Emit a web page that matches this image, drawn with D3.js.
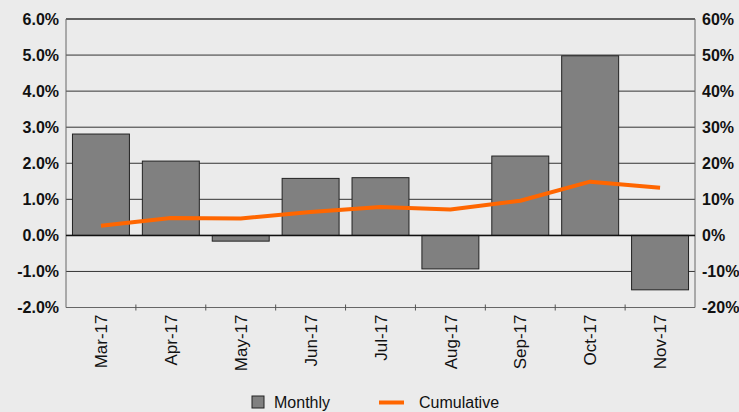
<!DOCTYPE html>
<html><head><meta charset="utf-8">
<script src="https://cdn.jsdelivr.net/npm/d3@7"></script>
<style>
html,body{margin:0;padding:0;background:#ebebeb;}
svg{display:block;}
</style>
</head><body>
<script>
const categories = ["Mar-17","Apr-17","May-17","Jun-17","Jul-17","Aug-17","Sep-17","Oct-17","Nov-17"];
const monthly = [2.81, 2.06, -0.16, 1.58, 1.60, -0.93, 2.20, 4.98, -1.51];
const cumulative = [2.7, 4.8, 4.7, 6.5, 7.9, 7.2, 9.6, 14.9, 13.2];
const leftTicks = [-2,-1,0,1,2,3,4,5,6];
const rightTicks = [-20,-10,0,10,20,30,40,50,60];
const legendLabels = ["Monthly","Cumulative"];

const W = 739, H = 412;
const L = 66, R = 695, T = 19, B = 307.5;

const svg = d3.select("body").append("svg").attr("width",W).attr("height",H);
svg.append("rect").attr("width",W).attr("height",H).attr("fill","#ebebeb");

const x = d3.scaleBand().domain(categories).range([L,R]).paddingInner(0.185).paddingOuter(0.0925);
const y = d3.scaleLinear().domain([-2,6]).range([B,T]);
const y2 = d3.scaleLinear().domain([-20,60]).range([B,T]);

// gridlines
svg.append("g").selectAll("line").data(leftTicks).join("line")
  .attr("x1",L).attr("x2",R)
  .attr("y1",d=>y(d)).attr("y2",d=>y(d))
  .attr("stroke", d=> d===-2 ? "#666" : "#333")
  .attr("stroke-width", d=> d===6 ? 1.5 : 1);

// side axes
svg.append("line").attr("x1",L).attr("x2",L).attr("y1",T).attr("y2",B).attr("stroke","#666").attr("stroke-width",1);
svg.append("line").attr("x1",R).attr("x2",R).attr("y1",T).attr("y2",B).attr("stroke","#666").attr("stroke-width",1);

// bottom ticks at band boundaries
const step = x.step();
svg.append("g").selectAll("line").data(categories.slice(1)).join("line")
  .attr("x1",d=>x(d)-step*x.paddingInner()/2).attr("x2",d=>x(d)-step*x.paddingInner()/2)
  .attr("y1",B-3).attr("y2",B+3).attr("stroke","#555").attr("stroke-width",1);

// bars
svg.append("g").selectAll("rect").data(categories).join("rect")
  .attr("x",d=>x(d))
  .attr("width",x.bandwidth())
  .attr("y",(d,i)=>y(Math.max(0,monthly[i])))
  .attr("height",(d,i)=>Math.abs(y(monthly[i])-y(0)))
  .attr("fill","#808080").attr("stroke","#222").attr("stroke-width",1);

// zero line
svg.append("line").attr("x1",L).attr("x2",R).attr("y1",y(0)).attr("y2",y(0)).attr("stroke","#111").attr("stroke-width",1.5);

// cumulative line
const line = d3.line().x((d,i)=>x(categories[i])+x.bandwidth()/2).y(d=>y2(d));
svg.append("path").datum(cumulative).attr("d",line)
  .attr("fill","none").attr("stroke","#ff6600").attr("stroke-width",4).attr("stroke-linejoin","round");

// left axis labels
svg.append("g").selectAll("text").data(leftTicks).join("text")
  .attr("x",L-7).attr("y",d=>y(d)).attr("dy","0.36em")
  .attr("text-anchor","end")
  .style("font-family","'Liberation Sans', Arial, sans-serif").style("font-weight","bold").style("font-size","16px")
  .attr("fill","#111")
  .text(d=>d.toFixed(1)+"%");

// right axis labels
svg.append("g").selectAll("text").data(rightTicks).join("text")
  .attr("x",R+7).attr("y",d=>y2(d)).attr("dy","0.36em")
  .attr("text-anchor","start")
  .style("font-family","'Liberation Sans', Arial, sans-serif").style("font-weight","bold").style("font-size","16px")
  .attr("fill","#111")
  .text(d=>d+"%");

// x labels rotated
svg.append("g").selectAll("text").data(categories).join("text")
  .attr("transform",d=>`translate(${x(d)+x.bandwidth()/2},${B+7}) rotate(-90)`)
  .attr("text-anchor","end").attr("dy","0.36em")
  .style("font-family","'Liberation Sans', Arial, sans-serif").style("font-size","17px")
  .attr("fill","#111")
  .text(d=>d);

// legend
const lg = svg.append("g");
lg.append("rect").attr("x",252).attr("y",396).attr("width",12).attr("height",12)
  .attr("fill","#808080").attr("stroke","#222").attr("stroke-width",1);
lg.append("text").attr("x",274).attr("y",408)
  .style("font-family","'Liberation Sans', Arial, sans-serif").style("font-size","16px").attr("fill","#111")
  .text(legendLabels[0]);
lg.append("line").attr("x1",379).attr("x2",404).attr("y1",402.5).attr("y2",402.5)
  .attr("stroke","#ff6600").attr("stroke-width",4);
lg.append("text").attr("x",419).attr("y",408)
  .style("font-family","'Liberation Sans', Arial, sans-serif").style("font-size","16px").attr("fill","#111")
  .text(legendLabels[1]);
</script>
</body></html>
